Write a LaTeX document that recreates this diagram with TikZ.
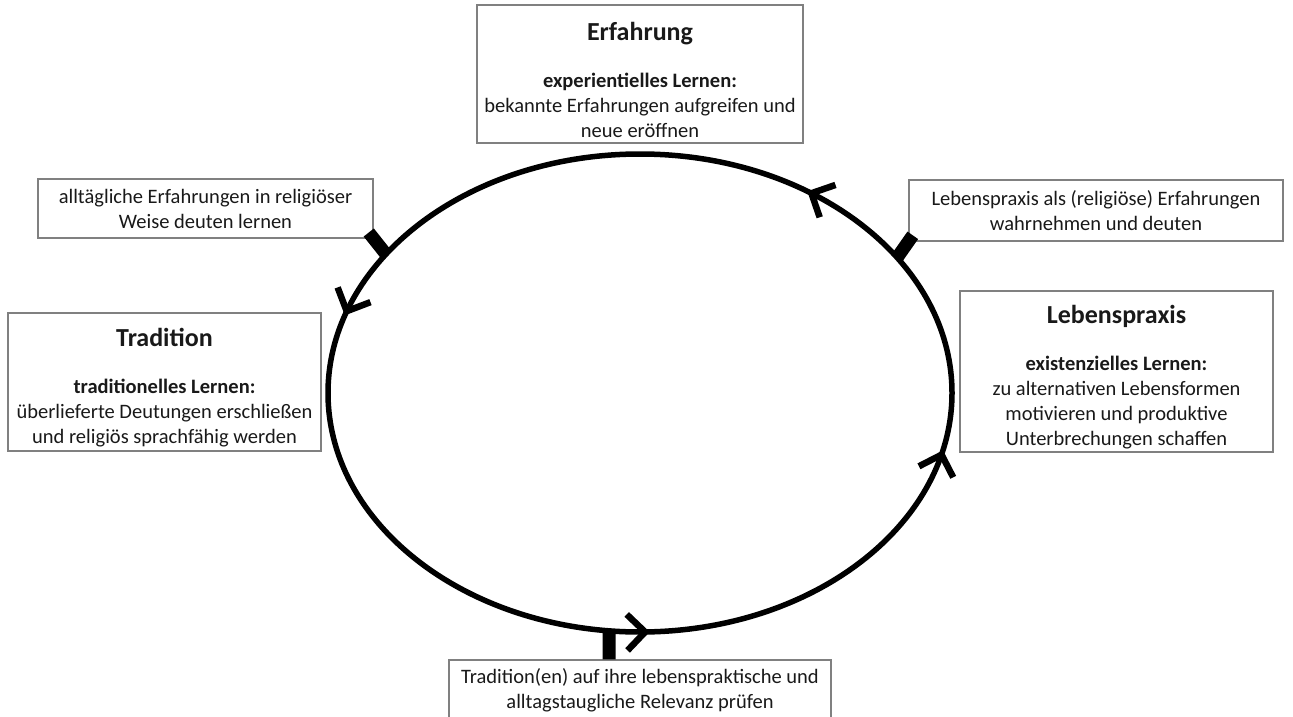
\documentclass[tikz,border=0pt]{standalone}
\usepackage{fontspec}
\setmainfont{Carlito}
\usetikzlibrary{arrows.meta,decorations.markings,calc}
\newcommand\BoxTitle[1]{{\fontsize{26}{30}\selectfont\bfseries\rule{0pt}{30pt}#1}}
\begin{document}
\begin{tikzpicture}[x=1pt,y=1pt,
  box/.style={draw=black!50, line width=1.4pt, align=center, inner sep=0pt,
    text=black!90, font=\fontsize{20.5}{25}\selectfont},
  tick/.style={line width=13pt, line cap=butt},
  chev/.tip={Straight Barb[length=18pt,width=36pt,line width=6.5pt]},
  ring/.style={line width=5.5pt, postaction={decorate}, decoration={markings,
    mark=at position 0.1506 with {\arrow{chev}},
    mark=at position 0.4540 with {\arrow{chev}},
    mark=at position 0.7556 with {\arrow{chev}},
    mark=at position 0.9665 with {\arrow{chev}}}}]
\useasboundingbox (0,0) rectangle (1293,-717);
\clip (0,0) rectangle (1293,-717);

\coordinate (C) at (640,-393);
\draw[ring] (C) ellipse [x radius=312, y radius=239];
\coordinate (p1) at ($(C)+(144.5:312 and 239)$);
\coordinate (p2) at ($(C)+(34.5:312 and 239)$);
\coordinate (p3) at ($(C)+(264.3:312 and 239)$);

\node[box, minimum width=326, minimum height=138] (erf) at (640,-74)
  {\BoxTitle{Erfahrung}\\[22pt]\textbf{experientielles Lernen:}\\bekannte Erfahrungen aufgreifen und\\neue eröffnen};
\node[box, minimum width=313, minimum height=138] (trad) at (164.5,-382)
  {\BoxTitle{Tradition}\\[22pt]\textbf{traditionelles Lernen:}\\überlieferte Deutungen erschließen\\und religiös sprachfähig werden};
\node[box, minimum width=313, minimum height=161] (leb) at (1116.5,-371.5)
  {\BoxTitle{Lebenspraxis}\\[22pt]\textbf{existenzielles Lernen:}\\zu alternativen Lebensformen\\motivieren und produktive\\Unterbrechungen schaffen};
\node[box, minimum width=335, minimum height=59] (allt) at (205.5,-208.5)
  {alltägliche Erfahrungen in religiöser\\Weise deuten lernen};
\node[box, minimum width=374, minimum height=61] (lpx) at (1096,-210.5)
  {Lebenspraxis als (religiöse) Erfahrungen\\wahrnehmen und deuten};
\node[box, minimum width=382, minimum height=60] (trr) at (640,-690)
  {Tradition(en) auf ihre lebenspraktische und\\alltagstaugliche Relevanz prüfen};

\draw[tick] ($(allt.south east)!-0.4!(p1)$) -- (p1);
\draw[tick] ($(lpx.south west)!-0.4!(p2)$) -- (p2);
\draw[tick] ($(trr.north)+(-31,0)$) -- (p3);
\end{tikzpicture}
\end{document}
